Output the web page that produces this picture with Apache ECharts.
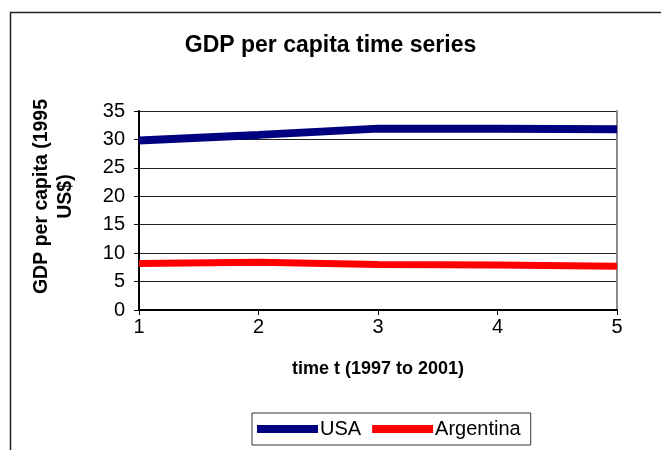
<!DOCTYPE html>
<html>
<head>
<meta charset="utf-8">
<script src="https://cdn.jsdelivr.net/npm/echarts@6/dist/echarts.min.js"></script>
<style>
  html, body { margin: 0; padding: 0; background: #fff; }
  #chart { width: 661px; height: 450px; }
</style>
</head>
<body>
<div id="chart"></div>
<script>
// GDP per capita (thousands of 1995 US$), periods 1..5 = 1997..2001
const periods = [1, 2, 3, 4, 5];
const usa = [29.8, 30.8, 31.9, 31.9, 31.8];
const argentina = [8.2, 8.4, 8.0, 7.9, 7.7];
const yTicks = [0, 5, 10, 15, 20, 25, 30, 35];

const font = 'Liberation Sans, Arial, sans-serif';
const pairs = (xs, ys) => xs.map((x, i) => [x, ys[i]]);

const chart = echarts.init(document.getElementById('chart'));
chart.setOption({
  backgroundColor: '#fff',
  animation: false,
  graphic: [{
    type: 'rect',
    shape: { x: 10.5, y: 12.5, width: 700, height: 500 },
    style: { fill: 'none', stroke: '#222', lineWidth: 1.5 },
    z: 0
  }],
  title: {
    text: 'GDP per capita time series',
    left: 'center',
    top: 29,
    textStyle: { fontFamily: font, fontSize: 23, fontWeight: 'bold', color: '#000' }
  },
  grid: { left: 139, right: 44, top: 111, bottom: 140 },
  xAxis: {
    type: 'value',
    min: 1, max: 5, interval: 1,
    name: 'time t (1997 to 2001)',
    nameLocation: 'middle',
    nameGap: 50,
    nameTextStyle: { fontFamily: font, fontSize: 18, fontWeight: 'bold', color: '#000' },
    axisLine: { show: true, onZero: false, lineStyle: { color: '#000', width: 2 } },
    axisTick: { show: true, length: 5, lineStyle: { color: '#000' } },
    axisLabel: { fontFamily: font, fontSize: 20, color: '#000', margin: 7 },
    splitLine: { show: false }
  },
  yAxis: [{
    type: 'value',
    min: 0, max: 35, interval: 5,
    name: 'GDP per capita (1995\nUS$)',
    nameLocation: 'middle',
    nameRotate: 90,
    nameGap: 61,
    nameTextStyle: {
      fontFamily: font, fontSize: 19.5, fontWeight: 'bold', color: '#000',
      lineHeight: 24, padding: [0, 0, 0, 28]
    },
    axisLine: { show: true, lineStyle: { color: '#000', width: 2 } },
    axisTick: { show: true, length: 5, lineStyle: { color: '#000' } },
    axisLabel: {
      fontFamily: font, fontSize: 20, color: '#000', margin: 14,
      formatter: v => (yTicks.includes(v) ? String(v) : '')
    },
    splitLine: { show: true, lineStyle: { color: '#222', width: 1 } }
  }, {
    // right-hand frame edge of the plot area
    type: 'value',
    min: 0, max: 35, interval: 5,
    position: 'right',
    axisLine: { show: true, lineStyle: { color: '#888', width: 2 } },
    axisTick: { show: false },
    axisLabel: { show: false },
    splitLine: { show: false }
  }],
  legend: {
    left: 252,
    top: 413,
    orient: 'horizontal',
    icon: 'rect',
    itemWidth: 61,
    itemHeight: 8,
    itemGap: 11,
    padding: [6, 10, 6, 5],
    borderColor: '#333',
    borderWidth: 1,
    textStyle: { fontFamily: font, fontSize: 20, color: '#000', padding: [0, 0, 0, -3] },
    data: ['USA', 'Argentina']
  },
  series: [{
    name: 'USA',
    type: 'line',
    data: pairs(periods, usa),
    showSymbol: false,
    lineStyle: { color: '#000080', width: 8 },
    itemStyle: { color: '#000080' },
    z: 3
  }, {
    name: 'Argentina',
    type: 'line',
    data: pairs(periods, argentina),
    showSymbol: false,
    lineStyle: { color: '#ff0000', width: 7 },
    itemStyle: { color: '#ff0000' },
    z: 3
  }]
});
</script>
</body>
</html>
